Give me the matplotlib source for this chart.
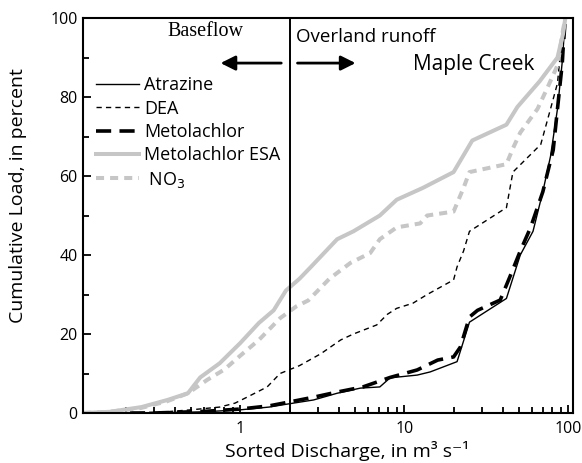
import numpy as np
import matplotlib
matplotlib.use("Agg")
import matplotlib.pyplot as plt
from matplotlib.ticker import LogLocator, NullFormatter, FixedLocator, FixedFormatter

# Data
atr_x = [0.11, 0.3, 0.6, 1.0, 1.5, 1.9, 2.8, 3.9, 5.4, 7.1, 8.2, 12, 14.4, 21, 25, 42, 51, 61, 70, 78, 86, 92, 96]
atr_y = [0, 0, 0.3, 0.8, 1.5, 2.2, 3.3, 5, 6.3, 6.6, 8.9, 9.6, 10.4, 13, 23, 29, 40, 46, 56, 65, 77, 89, 100]

dea_x = [0.11, 0.2, 0.35, 0.5, 0.75, 0.93, 1.1, 1.46, 1.75, 2.3, 3.1, 4.1, 4.9, 6.8, 7.9, 9.0, 11.3, 13.8, 20, 21, 23, 25, 42, 46, 68, 78, 86, 93, 96]
dea_y = [0, 0, 0.3, 0.8, 1.5, 2.5, 4, 6.6, 10, 12, 15, 18.5, 20, 22.3, 25, 26.5, 27.8, 30, 33.7, 37, 41, 46, 52, 61, 68, 77, 83.5, 98, 100]

met_x = [0.11, 0.3, 0.6, 1.0, 1.5, 2.0, 2.8, 3.9, 5.6, 8.2, 12, 16, 20, 22, 25, 28, 38.5, 44, 51, 59, 70, 81, 86, 92, 93, 96]
met_y = [0, 0, 0.4, 1, 1.8, 2.8, 4, 5.3, 6.6, 9, 10.9, 13.4, 14.2, 16.7, 24.3, 26, 28.6, 34.4, 41, 47, 56, 66.6, 77, 88.6, 92, 100]

esa_x = [0.11, 0.16, 0.25, 0.36, 0.48, 0.57, 0.75, 1.0, 1.3, 1.6, 1.9, 2.3, 2.7, 3.9, 4.9, 7.1, 9.0, 13, 20, 26, 42, 49, 67, 86, 93, 96]
esa_y = [0, 0.3, 1.5, 3.3, 5, 9, 12.6, 17.7, 22.8, 26, 31, 34, 37, 44, 46, 50, 54, 57, 61, 69, 73, 77.5, 84, 90, 96, 100]

no3_x = [0.11, 0.16, 0.25, 0.36, 0.48, 0.63, 0.8, 1.0, 1.3, 1.75, 2.2, 2.6, 3.5, 4.7, 6.2, 7.1, 9.0, 12.5, 13.8, 20, 23, 25, 42, 46, 51, 65, 74, 86, 93, 96]
no3_y = [0, 0.3, 1.3, 3, 5, 8.4, 11, 14.5, 18.5, 24, 27, 28.5, 34, 38, 40.5, 44, 47, 48, 50, 51, 57, 61, 63, 67, 71, 77, 82, 88, 97, 100]

split_q = 2.0
gray = "#c6c6c6"

plt.rcParams['font.family'] = ['Open Sans', 'DejaVu Sans']

fig = plt.figure(figsize=(5.82, 4.63), dpi=100)
ax = fig.add_axes([0.1426, 0.108, 0.842, 0.853])

ax.plot(atr_x, atr_y, color="black", lw=1.0, label="Atrazine")
ax.plot(dea_x, dea_y, color="black", lw=1.0, ls=(0, (3.8, 3)), label="DEA")
ax.plot(met_x, met_y, color="black", lw=2.6, ls=(0, (4.2, 2.3)), label="Metolachlor")
ax.plot(esa_x, esa_y, color=gray, lw=2.9, label="Metolachlor ESA")
ax.plot(no3_x, no3_y, color=gray, lw=2.9, ls=(0, (2, 1.5)), label=" NO$_3$")

ax.axvline(split_q, color="black", lw=1.4)

ax.set_xscale("log")
ax.set_xlim(0.11, 107)
ax.set_ylim(0, 100)

ax.xaxis.set_major_locator(FixedLocator([1, 10, 100]))
ax.xaxis.set_major_formatter(FixedFormatter(["1", "10", "100"]))
ax.xaxis.set_minor_locator(LogLocator(base=10, subs=np.arange(2, 10)))
ax.xaxis.set_minor_formatter(NullFormatter())
ax.set_yticks([0, 20, 40, 60, 80, 100])
ax.set_yticks(np.arange(10, 100, 20), minor=True)

ax.tick_params(which="both", direction="in", labelsize=11.5, width=1.3)
ax.tick_params(which="major", length=6)
ax.tick_params(which="minor", length=4)
ax.tick_params(axis="x", pad=6)
ax.tick_params(axis="y", pad=4)
for s in ax.spines.values():
    s.set_linewidth(1.5)

ax.set_xlabel("Sorted Discharge, in m³ s⁻¹", fontsize=14)
ax.set_ylabel("Cumulative Load, in percent", fontsize=14)
ax.xaxis.set_label_coords(0.539, -0.07)
ax.yaxis.set_label_coords(-0.114, 0.55)

ax.text(0.61, 96.5, "Baseflow", fontsize=14.5, family="Liberation Serif", ha="center", va="center")
ax.text(2.2, 95.3, "Overland runoff", fontsize=13.5, ha="left", va="center")
ax.text(11.3, 88.3, "Maple Creek", fontsize=15, ha="left", va="center")
ax.annotate("", xy=(0.73, 88.6), xytext=(1.85, 88.6),
            arrowprops=dict(arrowstyle="-|>", color="black", lw=2, mutation_scale=22))
ax.annotate("", xy=(5.25, 88.6), xytext=(2.15, 88.6),
            arrowprops=dict(arrowstyle="-|>", color="black", lw=2, mutation_scale=22))

ax.legend(loc="upper left", bbox_to_anchor=(0.0, 0.885), frameon=False, fontsize=13,
          handlelength=2.4, handletextpad=0.3, labelspacing=0.3, borderaxespad=0.3)

fig.savefig("out.png", dpi=100)
